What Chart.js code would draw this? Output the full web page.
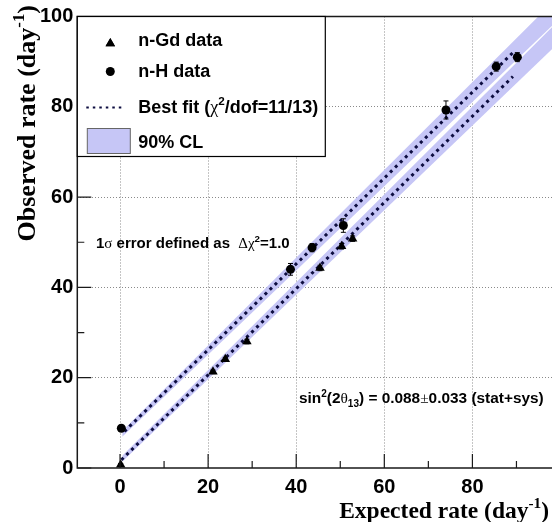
<!DOCTYPE html>
<html><head><meta charset="utf-8">
<script src="https://cdn.jsdelivr.net/npm/chart.js@4.4.1/dist/chart.umd.min.js"></script>
<style>
html,body{margin:0;padding:0;background:#fff;overflow:hidden;width:552px;height:522px;}
#wrap{position:relative;width:566px;height:522px;}
canvas{display:block;}
</style></head><body>
<div id="wrap"><canvas id="c" width="566" height="522"></canvas></div>
<script>
// ---- data ----
const xTickValues = [0, 20, 40, 60, 80];
const yTickValues = [0, 20, 40, 60, 80, 100];
const xMinorTicks = [10, 30, 50, 70, 90];
const yMinorTicks = [10, 30, 50, 70, 90];

const gdExpected = [0.15, 21.1, 23.9, 28.8, 45.4, 50.3, 52.8];
const gdObserved = [0.7, 21.3, 24.1, 28.0, 44.3, 49.1, 50.8];
const gdError    = [0.3, 0.4, 0.4, 0.5, 0.6, 0.6, 0.6];

const hExpected = [0.3, 38.7, 43.6, 50.7, 74.0, 85.4, 90.2];
const hObserved = [8.8, 44.0, 48.8, 53.7, 79.3, 88.9, 91.0];
const hError    = [0.6, 1.3, 0.9, 1.5, 2.0, 1.0, 1.0];

const fitHx  = [1.0, 89.2];
const fitHy  = [8.1, 92.0];
const fitGdx = [0.3, 89.2];
const fitGdy = [1.8, 86.7];

const bandHx    = [0.5, 100];
const bandHlow  = [6.9, 99.7];
const bandHhigh = [8.2, 104.9];
const bandGdx    = [0.5, 100];
const bandGdlow  = [1.4, 94.6];
const bandGdhigh = [2.7, 99.5];

const BAND = '#c6c6f6';
const LINEC = '#0d0d40';
const SANS = '"Liberation Sans", Arial, Helvetica, sans-serif';
const SERIF = '"Liberation Serif", "Times New Roman", serif';
const GREEK = '"Liberation Serif", "Times New Roman", serif';

const pts = (xs, ys) => xs.map((x, i) => ({x: x, y: ys[i]}));

function richWidth(ctx, parts, size, weight, family) {
  let w = 0;
  for (const p of parts) {
    const s = (p.sup || p.sub) ? size * 0.65 : size;
    ctx.font = (p.greek ? 'normal ' : weight + ' ') + s + 'px ' + (p.greek ? GREEK : family);
    w += ctx.measureText(p.t).width;
  }
  return w;
}
function richText(ctx, x, y, parts, size, weight, family) {
  ctx.textBaseline = 'alphabetic';
  ctx.textAlign = 'left';
  let cx = x;
  for (const p of parts) {
    const s = (p.sup || p.sub) ? size * 0.65 : size;
    ctx.font = (p.greek ? 'normal ' : weight + ' ') + s + 'px ' + (p.greek ? GREEK : family);
    const dy = p.sup ? -size * 0.42 : (p.sub ? size * 0.28 : 0);
    ctx.fillText(p.t, cx, y + dy);
    cx += ctx.measureText(p.t).width;
  }
  return cx - x;
}

const extras = {
  id: 'extras',
  afterDatasetsDraw(chart) {
    const ctx = chart.ctx, xs = chart.scales.x, ys = chart.scales.y;
    ctx.save();
    ctx.strokeStyle = '#000';
    ctx.lineWidth = 1;
    const bars = (ex, ob, er) => {
      for (let i = 0; i < ex.length; i++) {
        const px = xs.getPixelForValue(ex[i]);
        const y1 = ys.getPixelForValue(ob[i] - er[i]);
        const y2 = ys.getPixelForValue(ob[i] + er[i]);
        ctx.beginPath();
        ctx.moveTo(px, y1); ctx.lineTo(px, y2);
        ctx.moveTo(px - 2.5, y1); ctx.lineTo(px + 2.5, y1);
        ctx.moveTo(px - 2.5, y2); ctx.lineTo(px + 2.5, y2);
        ctx.stroke();
      }
    };
    bars(hExpected, hObserved, hError);
    bars(gdExpected, gdObserved, gdError);
    ctx.restore();
  },
  afterDraw(chart) {
    const ctx = chart.ctx, a = chart.chartArea, xs = chart.scales.x, ys = chart.scales.y;
    ctx.save();
    ctx.strokeStyle = '#1a1a1a';
    ctx.lineWidth = 1.5;
    ctx.beginPath();
    ctx.moveTo(a.right, a.top); ctx.lineTo(a.left, a.top); ctx.lineTo(a.left, a.bottom); ctx.lineTo(a.right, a.bottom);
    ctx.stroke();
    ctx.lineWidth = 1.2;
    ctx.beginPath();
    for (const v of xTickValues) { const p = xs.getPixelForValue(v); ctx.moveTo(p, a.bottom); ctx.lineTo(p, a.bottom - 14); }
    for (const v of xMinorTicks) { const p = xs.getPixelForValue(v); ctx.moveTo(p, a.bottom); ctx.lineTo(p, a.bottom - 7); }
    for (const v of yTickValues) { const p = ys.getPixelForValue(v); ctx.moveTo(a.left, p); ctx.lineTo(a.left + 14, p); }
    for (const v of yMinorTicks) { const p = ys.getPixelForValue(v); ctx.moveTo(a.left, p); ctx.lineTo(a.left + 7, p); }
    ctx.stroke();

    // legend box
    const lx = a.left, ly = a.top, lw = 248, lh = 140;
    ctx.fillStyle = '#fff';
    ctx.fillRect(lx, ly, lw, lh);
    ctx.strokeStyle = '#000';
    ctx.lineWidth = 1.2;
    ctx.strokeRect(lx, ly, lw, lh);
    ctx.fillStyle = '#000';
    Chart.helpers.drawPoint(ctx, {pointStyle: 'triangle', radius: 5.5, borderWidth: 0}, lx + 33, ly + 27);
    ctx.fill();
    ctx.beginPath(); ctx.arc(lx + 33, ly + 55, 4.5, 0, Math.PI * 2); ctx.fill();
    ctx.save();
    ctx.strokeStyle = LINEC; ctx.lineWidth = 2; ctx.setLineDash([2.5, 4]);
    ctx.beginPath(); ctx.moveTo(lx + 9, ly + 91); ctx.lineTo(lx + 48, ly + 91); ctx.stroke();
    ctx.restore();
    ctx.fillStyle = BAND;
    ctx.fillRect(lx + 10, ly + 112, 43, 25);
    ctx.strokeStyle = '#666'; ctx.lineWidth = 1;
    ctx.strokeRect(lx + 10, ly + 112, 43, 25);
    ctx.fillStyle = '#000';
    const tx = lx + 61;
    richText(ctx, tx, 46, [{t: 'n-Gd data'}], 18, 'bold', SANS);
    richText(ctx, tx, 77, [{t: 'n-H data'}], 18, 'bold', SANS);
    richText(ctx, tx, 112.5, [{t: 'Best fit ('}, {t: '\u03c7', greek: true}, {t: '2', sup: true}, {t: '/dof=11/13)'}], 18, 'bold', SANS);
    richText(ctx, tx, 148, [{t: '90% CL'}], 18, 'bold', SANS);

    // annotations
    richText(ctx, 96, 248, [{t: '1'}, {t: '\u03c3', greek: true}, {t: ' error defined as  '}, {t: '\u0394\u03c7', greek: true}, {t: '2', sup: true}, {t: '=1.0'}], 15, 'bold', SANS);
    richText(ctx, 299, 403, [{t: 'sin'}, {t: '2', sup: true}, {t: '(2'}, {t: '\u03b8', greek: true}, {t: '13', sub: true}, {t: ') = 0.088'}, {t: '\u00b1', greek: true}, {t: '0.033 (stat+sys)'}], 15.4, 'bold', SANS);

    // axis titles
    const xt = [{t: 'Expected rate (day'}, {t: '-1', sup: true}, {t: ')'}];
    const xw = richWidth(ctx, xt, 23.5, 'bold', SERIF);
    richText(ctx, 549 - xw, 518, xt, 23.5, 'bold', SERIF);
    const yt = [{t: 'Observed rate (day'}, {t: '-1', sup: true}, {t: ')'}];
    const yw = richWidth(ctx, yt, 26, 'bold', SERIF);
    ctx.save();
    ctx.translate(35, 5);
    ctx.rotate(-Math.PI / 2);
    richText(ctx, -yw, 0, yt, 26, 'bold', SERIF);
    ctx.restore();
    ctx.restore();
  }
};

new Chart(document.getElementById('c'), {
  type: 'line',
  data: {
    datasets: [
      {label: 'bandH_hi', data: pts(bandHx, bandHhigh), fill: '+1', backgroundColor: BAND, borderColor: 'transparent', borderWidth: 0, pointRadius: 0, order: 10},
      {label: 'bandH_lo', data: pts(bandHx, bandHlow), fill: false, borderColor: 'transparent', borderWidth: 0, pointRadius: 0, order: 10},
      {label: 'bandGd_hi', data: pts(bandGdx, bandGdhigh), fill: '+1', backgroundColor: BAND, borderColor: 'transparent', borderWidth: 0, pointRadius: 0, order: 10},
      {label: 'bandGd_lo', data: pts(bandGdx, bandGdlow), fill: false, borderColor: 'transparent', borderWidth: 0, pointRadius: 0, order: 10},
      {label: 'fitH', data: pts(fitHx, fitHy), borderColor: LINEC, borderWidth: 3, borderDash: [3, 4], pointRadius: 0, fill: false, order: 5},
      {label: 'fitGd', data: pts(fitGdx, fitGdy), borderColor: LINEC, borderWidth: 3, borderDash: [3, 4], pointRadius: 0, fill: false, order: 5},
      {label: 'n-H data', data: pts(hExpected, hObserved), showLine: false, pointStyle: 'circle', pointRadius: 4.5, pointBackgroundColor: '#000', pointBorderColor: '#000', pointBorderWidth: 0, order: 1},
      {label: 'n-Gd data', data: pts(gdExpected, gdObserved), showLine: false, pointStyle: 'triangle', pointRadius: 5.5, pointBackgroundColor: '#000', pointBorderColor: '#000', pointBorderWidth: 0, order: 1}
    ]
  },
  options: {
    animation: false,
    responsive: false,
    devicePixelRatio: 1,
    layout: {padding: {top: 16.5, right: 1, left: 0, bottom: 0}},
    plugins: {legend: {display: false}, tooltip: {enabled: false}},
    scales: {
      x: {
        type: 'linear', min: -9.7, max: 100,
        afterBuildTicks: s => { s.ticks = xTickValues.map(v => ({value: v})); },
        afterFit: s => { s.height = 54; },
        grid: {drawTicks: false, lineWidth: 1, color: '#8a8a8a'},
        border: {display: false, dash: [1, 2]},
        ticks: {color: '#000', padding: 7, font: {family: SANS, size: 20, weight: 'bold'}, callback: v => String(v)}
      },
      y: {
        type: 'linear', min: 0, max: 100,
        afterBuildTicks: s => { s.ticks = yTickValues.map(v => ({value: v})); },
        afterFit: s => { s.width = 77.3; },
        grid: {drawTicks: false, lineWidth: 1, color: ctx => ctx.tick && (ctx.tick.value === 0 || ctx.tick.value === 100) ? 'transparent' : '#8a8a8a'},
        border: {display: false, dash: [1, 2]},
        ticks: {color: '#000', padding: 4, font: {family: SANS, size: 20, weight: 'bold'}, callback: v => String(v)}
      }
    }
  },
  plugins: [extras]
});
</script>
</body></html>
